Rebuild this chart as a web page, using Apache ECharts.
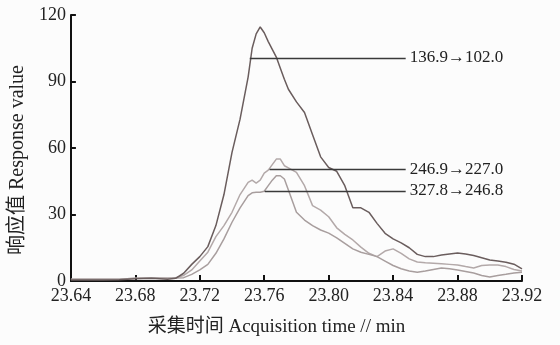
<!DOCTYPE html>
<html>
<head>
<meta charset="utf-8">
<script src="https://cdn.jsdelivr.net/npm/echarts@6/dist/echarts.min.js"></script>
<style>
  html, body { margin: 0; padding: 0; background: #fcfcfc; }
  #main { width: 560px; height: 345px; }
</style>
</head>
<body>
<div id="main"></div>
<script>
// acquisition time (min), shared by the three traces
var times = [23.64, 23.65, 23.66, 23.67, 23.68, 23.69, 23.70, 23.705, 23.71, 23.715,
  23.72, 23.725, 23.73, 23.735, 23.74, 23.745, 23.75, 23.7525, 23.755, 23.7575,
  23.76, 23.7625, 23.765, 23.7675, 23.77, 23.7725, 23.775, 23.78, 23.785, 23.79,
  23.795, 23.80, 23.805, 23.81, 23.815, 23.82, 23.825, 23.83, 23.835, 23.84,
  23.845, 23.85, 23.855, 23.86, 23.865, 23.87, 23.875, 23.88, 23.885, 23.89,
  23.895, 23.90, 23.905, 23.91, 23.915, 23.92];

// response values
var trace1369 = [0.5, 0.5, 0.5, 0.6, 1, 1.2, 0.8, 1.2, 3.5, 7.5,
  11, 15.5, 25, 39, 58, 73, 92, 105, 111.5, 114.6,
  112, 108, 104.5, 101, 96, 91, 86.5, 80.8, 76, 66,
  56, 51.2, 49.5, 43, 33, 33, 31, 26, 21.5, 19,
  17.2, 15, 12, 11, 11, 11.7, 12.2, 12.6, 12.2, 11.5,
  10.5, 9.5, 9, 8.5, 7.6, 5.5];
var trace2469 = [0.8, 0.8, 0.8, 0.8, 1.2, 1.3, 1.2, 1.5, 2.5, 5,
  9, 13, 20, 25, 31, 39, 44.5, 45.5, 44.2, 45.5,
  48.7, 50, 52.5, 55, 55, 52, 51, 49, 43, 34,
  32, 29, 24, 21, 18.5, 15.3, 12.5, 11, 13.5, 14.5,
  12.5, 10, 8.6, 8.2, 8, 7.8, 7.5, 7.2, 6.5, 5.9,
  7, 7.2, 7.2, 6.5, 5.2, 4.5];
var trace3278 = [0.8, 0.8, 0.8, 0.8, 1.2, 1.3, 1.2, 1.3, 1.5, 3,
  5, 7.5, 12.5, 19, 26.5, 33, 38.5, 39.8, 40, 40,
  40.5, 43, 45.5, 47.5, 47.5, 46, 41, 31, 27.5, 25,
  23, 21.6, 19.5, 17, 14.5, 13, 12, 11, 9, 7,
  5.5, 4.5, 4, 4.5, 5.2, 5.9, 5.5, 5, 4.3, 3.6,
  2.5, 1.8, 2.5, 3, 3.6, 4];

// peak annotations: label, level, start time, end time
var noteLabels = ['136.9\u2192102.0', '246.9\u2192227.0', '327.8\u2192246.8'];
var noteLevels = [100.6, 50.5, 40.6];
var noteStarts = [23.751, 23.7633, 23.7603];
var noteEnds = [23.8478, 23.8478, 23.8478];

var seriesNames = ['136.9', '246.9', '327.8'];
var seriesValues = [trace1369, trace2469, trace3278];
var seriesColors = ['#6a5d5d', '#b3a9a9', '#a89e9e'];

var fontFam = '"Liberation Serif", "Noto Sans CJK SC", serif';

var chartDom = document.getElementById('main');
var myChart = echarts.init(chartDom);

function pairs(vals) {
  return times.map(function (t, i) { return [t, vals[i]]; });
}

var series = seriesValues.map(function (vals, i) {
  return {
    name: seriesNames[i],
    type: 'line',
    data: pairs(vals),
    showSymbol: false,
    symbol: 'none',
    lineStyle: { color: seriesColors[i], width: 1.5 },
    z: i === 0 ? 3 : 2,
    markLine: {
      silent: true,
      symbol: 'none',
      lineStyle: { color: '#3a3a3a', width: 1.3, type: 'solid' },
      label: {
        show: true,
        position: 'end',
        distance: 4,
        formatter: noteLabels[i],
        color: '#222',
        fontSize: 17,
        fontFamily: fontFam
      },
      data: [[
        { coord: [noteStarts[i], noteLevels[i]] },
        { coord: [noteEnds[i], noteLevels[i]] }
      ]]
    }
  };
});

var option = {
  backgroundColor: '#fcfcfc',
  animation: false,
  grid: { left: 68, right: 38, top: 15, bottom: 64 },
  xAxis: {
    type: 'value',
    min: 23.64,
    max: 23.92,
    interval: 0.04,
    name: '采集时间 Acquisition time // min',
    nameLocation: 'middle',
    nameGap: 37,
    nameTextStyle: { color: '#222', fontSize: 19, fontFamily: fontFam, padding: [0, 40, 0, 0] },
    axisLine: { lineStyle: { color: '#111', width: 2 } },
    axisTick: { inside: true, length: 6, lineStyle: { color: '#111', width: 2 } },
    axisLabel: {
      color: '#222', fontSize: 18, fontFamily: fontFam, margin: 6,
      formatter: function (v) { return v.toFixed(2); }
    },
    splitLine: { show: false }
  },
  yAxis: {
    type: 'value',
    min: 0,
    max: 120,
    interval: 30,
    name: '响应值 Response value',
    nameLocation: 'middle',
    nameGap: 40,
    nameTextStyle: { color: '#222', fontSize: 20, fontFamily: fontFam, padding: [0, 24, 0, 0] },
    axisLine: { show: true, lineStyle: { color: '#111', width: 2 } },
    axisTick: { show: true, inside: true, length: 5, lineStyle: { color: '#111', width: 2 } },
    axisLabel: { color: '#222', fontSize: 18, fontFamily: fontFam, margin: 5 },
    splitLine: { show: false }
  },
  series: series
};

if (chartDom && myChart) {
  myChart.setOption(option);
} else {
  console.error('Failed to initialize the chart');
}
</script>
</body>
</html>
